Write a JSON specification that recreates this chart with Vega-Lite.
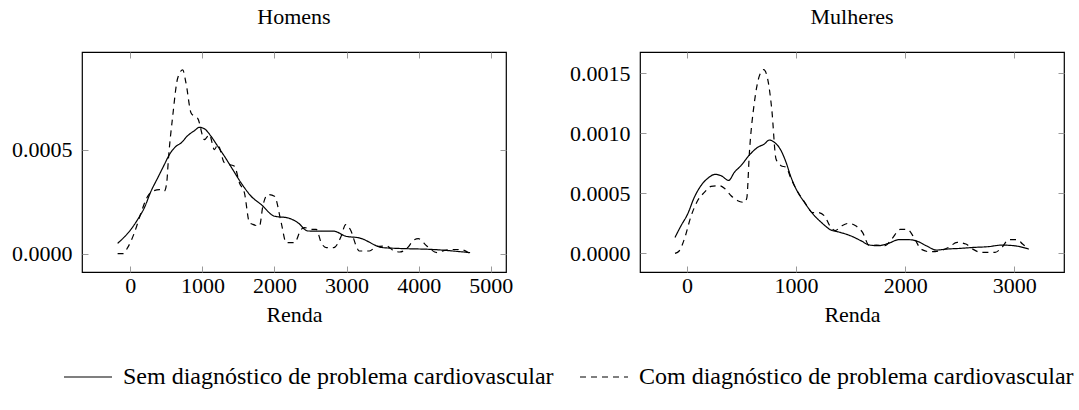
{
  "$schema": "https://vega.github.io/schema/vega-lite/v6.json",
  "config": {
    "font": "Liberation Serif",
    "padding": {"left": 10, "top": 5, "right": 0, "bottom": 0},
    "view": {"stroke": "#000000", "strokeWidth": 1.2},
    "axis": {"domain": false, "grid": false, "tickSize": -6, "tickColor": "#9a9a9a", "tickWidth": 1, "labelFont": "Liberation Serif", "labelFontSize": 22, "labelColor": "#000000", "titleFont": "Liberation Serif", "titleFontSize": 22, "titleFontWeight": "normal", "titleColor": "#000000"},
    "axisX": {"labelPadding": 9, "titlePadding": 8},
    "axisY": {"labelPadding": 16},
    "title": {"font": "Liberation Serif", "fontSize": 22, "fontWeight": "normal", "color": "#000000", "offset": 22.3},
    "legend": {"labelFont": "Liberation Serif", "labelFontSize": 24, "labelColor": "#000000", "labelLimit": 800, "symbolType": "stroke", "symbolSize": 2304, "symbolStrokeWidth": 1.2, "symbolStrokeColor": "#000000", "labelOffset": 10, "columnPadding": 23}
  },
  "datasets": {
    "homens": [
      {"g":"Sem","x":-176,"y":4.95e-5},{"g":"Sem","x":9,"y":1.17e-4},{"g":"Sem","x":102,"y":1.64e-4},{"g":"Sem","x":194,"y":2.2e-4},{"g":"Sem","x":287,"y":3.0e-4},{"g":"Sem","x":380,"y":3.64e-4},{"g":"Sem","x":472,"y":4.28e-4},{"g":"Sem","x":542,"y":4.76e-4},{"g":"Sem","x":634,"y":5.16e-4},{"g":"Sem","x":704,"y":5.32e-4},{"g":"Sem","x":796,"y":5.67e-4},{"g":"Sem","x":889,"y":5.91e-4},{"g":"Sem","x":958,"y":6.07e-4},{"g":"Sem","x":1028,"y":6.0e-4},{"g":"Sem","x":1120,"y":5.64e-4},{"g":"Sem","x":1213,"y":5.16e-4},{"g":"Sem","x":1306,"y":4.68e-4},{"g":"Sem","x":1421,"y":4.04e-4},{"g":"Sem","x":1537,"y":3.4e-4},{"g":"Sem","x":1676,"y":2.76e-4},{"g":"Sem","x":1815,"y":2.36e-4},{"g":"Sem","x":2000,"y":1.8e-4},{"g":"Sem","x":2185,"y":1.72e-4},{"g":"Sem","x":2324,"y":1.49e-4},{"g":"Sem","x":2463,"y":1.09e-4},{"g":"Sem","x":2823,"y":1.08e-4},{"g":"Sem","x":2988,"y":8.4e-5},{"g":"Sem","x":3175,"y":7.6e-5},{"g":"Sem","x":3504,"y":2.9e-5},{"g":"Sem","x":3738,"y":2.5e-5},{"g":"Sem","x":4207,"y":2.0e-5},{"g":"Sem","x":4713,"y":5e-6},
      {"g":"Com","x":-176,"y":0},{"g":"Com","x":-106,"y":0},{"g":"Com","x":-37,"y":2.9e-5},{"g":"Com","x":56,"y":1.0e-4},{"g":"Com","x":148,"y":1.96e-4},{"g":"Com","x":241,"y":2.76e-4},{"g":"Com","x":310,"y":3.0e-4},{"g":"Com","x":403,"y":3.08e-4},{"g":"Com","x":472,"y":3.0e-4},{"g":"Com","x":505,"y":3.4e-4},{"g":"Com","x":528,"y":4.52e-4},{"g":"Com","x":588,"y":6.6e-4},{"g":"Com","x":657,"y":8.43e-4},{"g":"Com","x":727,"y":8.83e-4},{"g":"Com","x":773,"y":8.19e-4},{"g":"Com","x":843,"y":6.76e-4},{"g":"Com","x":889,"y":6.6e-4},{"g":"Com","x":935,"y":6.5e-4},{"g":"Com","x":1028,"y":5.48e-4},{"g":"Com","x":1097,"y":5.72e-4},{"g":"Com","x":1167,"y":5.0e-4},{"g":"Com","x":1213,"y":5.24e-4},{"g":"Com","x":1306,"y":4.36e-4},{"g":"Com","x":1375,"y":4.28e-4},{"g":"Com","x":1445,"y":4.2e-4},{"g":"Com","x":1514,"y":3.4e-4},{"g":"Com","x":1583,"y":2.92e-4},{"g":"Com","x":1653,"y":1.49e-4},{"g":"Com","x":1699,"y":1.41e-4},{"g":"Com","x":1792,"y":1.33e-4},{"g":"Com","x":1838,"y":2.28e-4},{"g":"Com","x":1908,"y":2.84e-4},{"g":"Com","x":2000,"y":2.76e-4},{"g":"Com","x":2093,"y":1.49e-4},{"g":"Com","x":2162,"y":5.3e-5},{"g":"Com","x":2278,"y":5.3e-5},{"g":"Com","x":2370,"y":1.17e-4},{"g":"Com","x":2417,"y":1.25e-4},{"g":"Com","x":2509,"y":1.17e-4},{"g":"Com","x":2579,"y":1.17e-4},{"g":"Com","x":2648,"y":5.3e-5},{"g":"Com","x":2718,"y":2.9e-5},{"g":"Com","x":2823,"y":2.9e-5},{"g":"Com","x":2920,"y":8.0e-5},{"g":"Com","x":2988,"y":1.4e-4},{"g":"Com","x":3060,"y":1.1e-4},{"g":"Com","x":3130,"y":4.0e-5},{"g":"Com","x":3175,"y":1.3e-5},{"g":"Com","x":3316,"y":1.3e-5},{"g":"Com","x":3420,"y":3.5e-5},{"g":"Com","x":3550,"y":3.7e-5},{"g":"Com","x":3650,"y":1.5e-5},{"g":"Com","x":3738,"y":8e-6},{"g":"Com","x":3850,"y":3.0e-5},{"g":"Com","x":3930,"y":6.5e-5},{"g":"Com","x":3996,"y":7.2e-5},{"g":"Com","x":4113,"y":3.7e-5},{"g":"Com","x":4254,"y":5e-6},{"g":"Com","x":4350,"y":1.5e-5},{"g":"Com","x":4441,"y":2.0e-5},{"g":"Com","x":4582,"y":2.0e-5},{"g":"Com","x":4700,"y":2e-6}
    ],
    "mulheres": [
      {"g":"Sem","x":-110,"y":1.33e-4},{"g":"Sem","x":-55,"y":2.3e-4},{"g":"Sem","x":6,"y":3.28e-4},{"g":"Sem","x":67,"y":4.67e-4},{"g":"Sem","x":128,"y":5.64e-4},{"g":"Sem","x":190,"y":6.25e-4},{"g":"Sem","x":257,"y":6.58e-4},{"g":"Sem","x":312,"y":6.47e-4},{"g":"Sem","x":382,"y":6.08e-4},{"g":"Sem","x":434,"y":6.75e-4},{"g":"Sem","x":495,"y":7.31e-4},{"g":"Sem","x":572,"y":8.19e-4},{"g":"Sem","x":648,"y":8.83e-4},{"g":"Sem","x":709,"y":9.11e-4},{"g":"Sem","x":755,"y":9.44e-4},{"g":"Sem","x":801,"y":9.25e-4},{"g":"Sem","x":862,"y":8.56e-4},{"g":"Sem","x":908,"y":7.58e-4},{"g":"Sem","x":954,"y":6.33e-4},{"g":"Sem","x":1000,"y":5.36e-4},{"g":"Sem","x":1076,"y":4.25e-4},{"g":"Sem","x":1168,"y":3.14e-4},{"g":"Sem","x":1229,"y":2.6e-4},{"g":"Sem","x":1309,"y":2.0e-4},{"g":"Sem","x":1404,"y":1.75e-4},{"g":"Sem","x":1499,"y":1.47e-4},{"g":"Sem","x":1593,"y":1.06e-4},{"g":"Sem","x":1672,"y":7.0e-5},{"g":"Sem","x":1751,"y":6.4e-5},{"g":"Sem","x":1846,"y":8.3e-5},{"g":"Sem","x":1940,"y":1.14e-4},{"g":"Sem","x":2035,"y":1.14e-4},{"g":"Sem","x":2114,"y":1.0e-4},{"g":"Sem","x":2193,"y":6.4e-5},{"g":"Sem","x":2287,"y":2.8e-5},{"g":"Sem","x":2382,"y":3.6e-5},{"g":"Sem","x":2508,"y":4.2e-5},{"g":"Sem","x":2634,"y":5.0e-5},{"g":"Sem","x":2760,"y":5.6e-5},{"g":"Sem","x":2887,"y":6.9e-5},{"g":"Sem","x":2997,"y":6.4e-5},{"g":"Sem","x":3133,"y":3.6e-5},
      {"g":"Com","x":-110,"y":0},{"g":"Com","x":-70,"y":2.2e-5},{"g":"Com","x":-24,"y":1.2e-4},{"g":"Com","x":37,"y":3.1e-4},{"g":"Com","x":98,"y":4.4e-4},{"g":"Com","x":159,"y":5.08e-4},{"g":"Com","x":220,"y":5.58e-4},{"g":"Com","x":297,"y":5.64e-4},{"g":"Com","x":343,"y":5.42e-4},{"g":"Com","x":404,"y":4.8e-4},{"g":"Com","x":465,"y":4.39e-4},{"g":"Com","x":526,"y":4.25e-4},{"g":"Com","x":548,"y":4.6e-4},{"g":"Com","x":572,"y":8.4e-4},{"g":"Com","x":618,"y":1.26e-3},{"g":"Com","x":664,"y":1.48e-3},{"g":"Com","x":703,"y":1.53e-3},{"g":"Com","x":740,"y":1.45e-3},{"g":"Com","x":777,"y":1.2e-3},{"g":"Com","x":816,"y":7.86e-4},{"g":"Com","x":862,"y":7.3e-4},{"g":"Com","x":908,"y":7.17e-4},{"g":"Com","x":954,"y":6.2e-4},{"g":"Com","x":1000,"y":5.36e-4},{"g":"Com","x":1076,"y":4.3e-4},{"g":"Com","x":1152,"y":3.4e-4},{"g":"Com","x":1199,"y":3.4e-4},{"g":"Com","x":1262,"y":3.1e-4},{"g":"Com","x":1309,"y":2.3e-4},{"g":"Com","x":1357,"y":1.9e-4},{"g":"Com","x":1420,"y":2.3e-4},{"g":"Com","x":1483,"y":2.5e-4},{"g":"Com","x":1546,"y":2.3e-4},{"g":"Com","x":1609,"y":1.75e-4},{"g":"Com","x":1672,"y":6.4e-5},{"g":"Com","x":1735,"y":6.9e-5},{"g":"Com","x":1814,"y":6.4e-5},{"g":"Com","x":1877,"y":1.2e-4},{"g":"Com","x":1956,"y":2.0e-4},{"g":"Com","x":2019,"y":2.0e-4},{"g":"Com","x":2082,"y":1.3e-4},{"g":"Com","x":2145,"y":3.6e-5},{"g":"Com","x":2224,"y":1.4e-5},{"g":"Com","x":2319,"y":2.2e-5},{"g":"Com","x":2398,"y":5.0e-5},{"g":"Com","x":2477,"y":9.2e-5},{"g":"Com","x":2556,"y":7.8e-5},{"g":"Com","x":2619,"y":3.6e-5},{"g":"Com","x":2698,"y":8e-6},{"g":"Com","x":2824,"y":8e-6},{"g":"Com","x":2887,"y":5.0e-5},{"g":"Com","x":2950,"y":1.14e-4},{"g":"Com","x":3029,"y":1.14e-4},{"g":"Com","x":3076,"y":7.8e-5},{"g":"Com","x":3133,"y":3.6e-5}
    ]
  },
  "spacing": 54,
  "resolve": {"scale": {"strokeDash": "shared"}, "legend": {"strokeDash": "shared"}},
  "hconcat": [
    {
      "title": "Homens",
      "width": 424,
      "height": 220,
      "data": {"name": "homens"},
      "resolve": {"axis": {"x": "independent", "y": "independent"}},
      "layer": [
        {
          "transform": [{"filter": "datum.g == 'Sem'"}],
          "mark": {"type": "line", "color": "#000000", "strokeWidth": 1.2, "interpolate": "monotone"},
          "encoding": {
            "x": {"field": "x", "type": "quantitative", "scale": {"domain": [-670, 5211], "nice": false, "zero": false}, "axis": {"orient": "bottom", "values": [0, 1000, 2000, 3000, 4000, 5000], "format": "d", "title": "Renda"}},
            "y": {"field": "y", "type": "quantitative", "scale": {"domain": [-0.000088, 0.000969], "nice": false, "zero": false}, "axis": {"orient": "left", "values": [0, 0.0005], "format": ".4f", "title": null}},
            "strokeDash": {"field": "g", "type": "nominal", "scale": {"domain": ["Sem", "Com"], "range": [[1, 0], [6, 5]]}, "legend": {"title": null, "orient": "none", "direction": "horizontal", "legendX": -19, "legendY": 300, "labelExpr": "datum.label == 'Sem' ? 'Sem diagnóstico de problema cardiovascular' : 'Com diagnóstico de problema cardiovascular'"}}
          }
        },
        {
          "transform": [{"filter": "datum.g == 'Com'"}],
          "mark": {"type": "line", "color": "#000000", "strokeWidth": 1.2, "interpolate": "monotone"},
          "encoding": {
            "x": {"field": "x", "type": "quantitative", "axis": {"orient": "top", "values": [0, 1000, 2000, 3000, 4000, 5000], "labels": false, "title": null}},
            "y": {"field": "y", "type": "quantitative", "axis": {"orient": "right", "values": [0, 0.0005], "labels": false, "title": null}},
            "strokeDash": {"field": "g", "type": "nominal"}
          }
        }
      ]
    },
    {
      "title": "Mulheres",
      "width": 424,
      "height": 220,
      "data": {"name": "mulheres"},
      "resolve": {"axis": {"x": "independent", "y": "independent"}},
      "layer": [
        {
          "transform": [{"filter": "datum.g == 'Sem'"}],
          "mark": {"type": "line", "color": "#000000", "strokeWidth": 1.2, "interpolate": "monotone"},
          "encoding": {
            "x": {"field": "x", "type": "quantitative", "scale": {"domain": [-431, 3456], "nice": false, "zero": false}, "axis": {"orient": "bottom", "values": [0, 1000, 2000, 3000], "format": "d", "title": "Renda"}},
            "y": {"field": "y", "type": "quantitative", "scale": {"domain": [-0.000155, 0.001677], "nice": false, "zero": false}, "axis": {"orient": "left", "values": [0, 0.0005, 0.001, 0.0015], "format": ".4f", "title": null}},
            "strokeDash": {"field": "g", "type": "nominal"}
          }
        },
        {
          "transform": [{"filter": "datum.g == 'Com'"}],
          "mark": {"type": "line", "color": "#000000", "strokeWidth": 1.2, "interpolate": "monotone"},
          "encoding": {
            "x": {"field": "x", "type": "quantitative", "axis": {"orient": "top", "values": [0, 1000, 2000, 3000], "labels": false, "title": null}},
            "y": {"field": "y", "type": "quantitative", "axis": {"orient": "right", "values": [0, 0.0005, 0.001, 0.0015], "labels": false, "title": null}},
            "strokeDash": {"field": "g", "type": "nominal"}
          }
        }
      ]
    }
  ]
}
